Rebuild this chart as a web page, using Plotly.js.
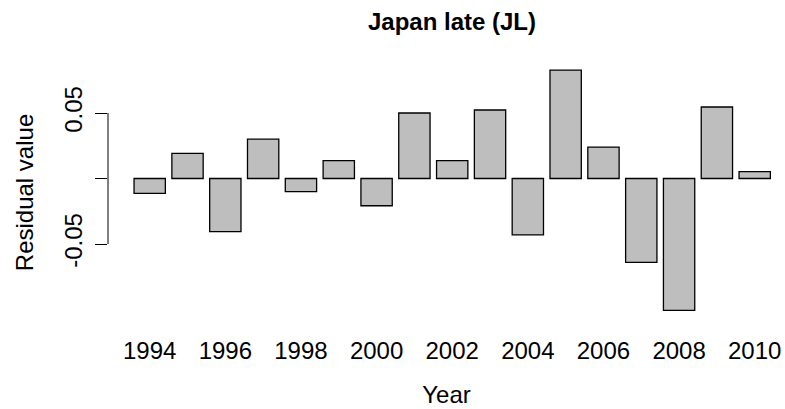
<!DOCTYPE html>
<html>
<head>
<meta charset="utf-8">
<script src="https://cdn.plot.ly/plotly-3.0.1.min.js"></script>
<style>html,body{margin:0;padding:0;background:#fff;}</style>
</head>
<body>
<div id="chart" style="width:785px;height:409px;"></div>
<script>
const years = [1994,1995,1996,1997,1998,1999,2000,2001,2002,2003,2004,2005,2006,2007,2008,2009,2010];
const residuals = [-0.0113,0.0192,-0.0406,0.0300,-0.0100,0.0136,-0.0208,0.0500,0.0136,0.0523,-0.0431,0.0828,0.0240,-0.0640,-0.1006,0.0546,0.0052];
const xTickVals = [1994,1996,1998,2000,2002,2004,2006,2008,2010];
const xTickText = ["1994","1996","1998","2000","2002","2004","2006","2008","2010"];
const yTickVals = [-0.05,0,0.05];
const yTickText = ["-0.05","","0.05"];

const FONT = "Liberation Sans, Arial, Helvetica, sans-serif";
const FS = 24;

const trace = {
  type: "bar",
  x: years,
  y: residuals,
  marker: {color: "#BEBEBE", line: {color: "#000000", width: 1.3}},
  hoverinfo: "x+y"
};

const layout = {
  width: 785, height: 409,
  margin: {l: 108, r: 0, t: 60, b: 84},
  paper_bgcolor: "#ffffff", plot_bgcolor: "#ffffff",
  font: {family: FONT, size: FS, color: "#000000"},
  showlegend: false,
  bargap: 0.172,
  title: {
    text: "<b>Japan late (JL)</b>",
    font: {family: FONT, size: FS, color: "#000000"},
    xref: "container", x: 452/785, xanchor: "center",
    yref: "container", y: 0.947, yanchor: "middle"
  },
  xaxis: {
    range: [1992.897, 2010.801],
    tickvals: xTickVals, ticktext: xTickText,
    showline: false, showgrid: false, zeroline: false,
    ticks: "", ticklabelstandoff: 9,
    tickfont: {family: FONT, size: FS, color: "#000000"},
    title: {text: "Year", font: {family: FONT, size: FS, color: "#000000"}, standoff: 23}
  },
  yaxis: {
    range: [-0.11183, 0.09046],
    tickvals: yTickVals, ticktext: yTickText,
    showline: false, showgrid: false, zeroline: false,
    ticks: "outside", ticklen: 12, tickwidth: 1, tickcolor: "#000000",
    tickangle: -90, ticklabelstandoff: 3,
    tickfont: {family: FONT, size: FS, color: "#000000"},
    title: {text: "Residual value", font: {family: FONT, size: FS, color: "#000000"}, standoff: 20}
  },
  shapes: [{
    type: "line", xref: "paper", yref: "y",
    x0: 0, x1: 0, y0: yTickVals[0], y1: yTickVals[yTickVals.length-1],
    line: {color: "#000000", width: 1}
  }]
};

Plotly.newPlot("chart", [trace], layout, {displayModeBar: false, staticPlot: true});
</script>
</body>
</html>
